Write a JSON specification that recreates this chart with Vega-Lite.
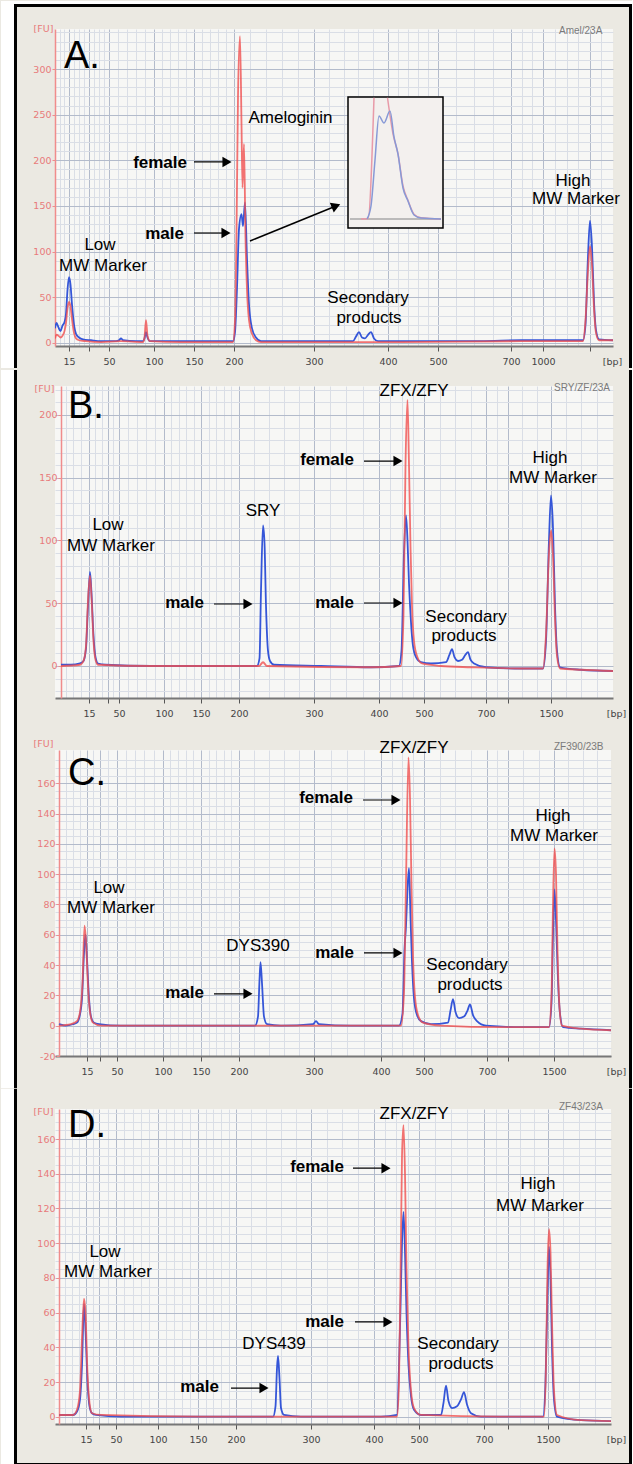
{
"$schema": "https://vega.github.io/schema/vega-lite/v6.json",
"background": "#ebe9e2",
"padding": 0,
"spacing": 0,
"resolve": {"scale": {"x": "independent", "y": "independent"}, "axis": {"x": "independent", "y": "independent"}},
"datasets": {
"trace": [
{"p":"A","s":"male","t":5.4,"fu":16},{"p":"A","s":"male","t":5.55,"fu":22},{"p":"A","s":"male","t":5.75,"fu":17},{"p":"A","s":"male","t":5.95,"fu":13},{"p":"A","s":"male","t":6.15,"fu":19},{"p":"A","s":"male","t":6.35,"fu":23},{"p":"A","s":"male","t":6.5,"fu":32},{"p":"A","s":"male","t":6.65,"fu":58},{"p":"A","s":"male","t":6.8,"fu":72},{"p":"A","s":"male","t":6.95,"fu":64},{"p":"A","s":"male","t":7.1,"fu":42},{"p":"A","s":"male","t":7.3,"fu":20},{"p":"A","s":"male","t":7.5,"fu":10},{"p":"A","s":"male","t":7.8,"fu":6},{"p":"A","s":"male","t":8.2,"fu":4},{"p":"A","s":"male","t":9.0,"fu":3},{"p":"A","s":"male","t":10.0,"fu":2},{"p":"A","s":"male","t":11.5,"fu":2},{"p":"A","s":"male","t":11.8,"fu":3},{"p":"A","s":"male","t":12.0,"fu":5},{"p":"A","s":"male","t":12.2,"fu":3},{"p":"A","s":"male","t":13.5,"fu":2},{"p":"A","s":"male","t":14.2,"fu":2},{"p":"A","s":"male","t":14.35,"fu":5},{"p":"A","s":"male","t":14.5,"fu":12},{"p":"A","s":"male","t":14.65,"fu":6},{"p":"A","s":"male","t":14.9,"fu":2},{"p":"A","s":"male","t":17.0,"fu":2},{"p":"A","s":"male","t":20.0,"fu":2},{"p":"A","s":"male","t":22.0,"fu":2},{"p":"A","s":"male","t":23.2,"fu":2},{"p":"A","s":"male","t":23.4,"fu":12},{"p":"A","s":"male","t":23.6,"fu":60},{"p":"A","s":"male","t":23.8,"fu":125},{"p":"A","s":"male","t":24.05,"fu":141},{"p":"A","s":"male","t":24.2,"fu":128},{"p":"A","s":"male","t":24.4,"fu":154},{"p":"A","s":"male","t":24.6,"fu":92},{"p":"A","s":"male","t":24.8,"fu":42},{"p":"A","s":"male","t":25.1,"fu":16},{"p":"A","s":"male","t":25.5,"fu":6},{"p":"A","s":"male","t":26.0,"fu":2},{"p":"A","s":"male","t":30.0,"fu":2},{"p":"A","s":"male","t":35.2,"fu":2},{"p":"A","s":"male","t":35.5,"fu":7},{"p":"A","s":"male","t":35.8,"fu":12},{"p":"A","s":"male","t":36.1,"fu":6},{"p":"A","s":"male","t":36.4,"fu":5},{"p":"A","s":"male","t":36.7,"fu":9},{"p":"A","s":"male","t":37.0,"fu":12},{"p":"A","s":"male","t":37.3,"fu":5},{"p":"A","s":"male","t":37.7,"fu":2},{"p":"A","s":"male","t":42.0,"fu":2},{"p":"A","s":"male","t":48.0,"fu":2},{"p":"A","s":"male","t":52.0,"fu":3},{"p":"A","s":"male","t":56.0,"fu":3},{"p":"A","s":"male","t":58.2,"fu":3},{"p":"A","s":"male","t":58.45,"fu":20},{"p":"A","s":"male","t":58.7,"fu":95},{"p":"A","s":"male","t":58.9,"fu":134},{"p":"A","s":"male","t":59.1,"fu":105},{"p":"A","s":"male","t":59.3,"fu":45},{"p":"A","s":"male","t":59.5,"fu":14},{"p":"A","s":"male","t":59.8,"fu":4},{"p":"A","s":"male","t":61.2,"fu":3},
{"p":"A","s":"female","t":5.4,"fu":5},{"p":"A","s":"female","t":5.55,"fu":9},{"p":"A","s":"female","t":5.75,"fu":8},{"p":"A","s":"female","t":5.95,"fu":6},{"p":"A","s":"female","t":6.15,"fu":8},{"p":"A","s":"female","t":6.35,"fu":13},{"p":"A","s":"female","t":6.5,"fu":22},{"p":"A","s":"female","t":6.65,"fu":38},{"p":"A","s":"female","t":6.8,"fu":45},{"p":"A","s":"female","t":6.95,"fu":40},{"p":"A","s":"female","t":7.1,"fu":26},{"p":"A","s":"female","t":7.3,"fu":11},{"p":"A","s":"female","t":7.5,"fu":5},{"p":"A","s":"female","t":7.8,"fu":3},{"p":"A","s":"female","t":8.5,"fu":2},{"p":"A","s":"female","t":10.0,"fu":1},{"p":"A","s":"female","t":12.0,"fu":2},{"p":"A","s":"female","t":14.2,"fu":1},{"p":"A","s":"female","t":14.35,"fu":6},{"p":"A","s":"female","t":14.5,"fu":25},{"p":"A","s":"female","t":14.65,"fu":8},{"p":"A","s":"female","t":14.9,"fu":2},{"p":"A","s":"female","t":18.0,"fu":1},{"p":"A","s":"female","t":23.2,"fu":1},{"p":"A","s":"female","t":23.4,"fu":25},{"p":"A","s":"female","t":23.55,"fu":120},{"p":"A","s":"female","t":23.7,"fu":270},{"p":"A","s":"female","t":23.9,"fu":336},{"p":"A","s":"female","t":24.05,"fu":240},{"p":"A","s":"female","t":24.15,"fu":170},{"p":"A","s":"female","t":24.3,"fu":218},{"p":"A","s":"female","t":24.45,"fu":115},{"p":"A","s":"female","t":24.6,"fu":58},{"p":"A","s":"female","t":24.8,"fu":25},{"p":"A","s":"female","t":25.1,"fu":10},{"p":"A","s":"female","t":25.5,"fu":3},{"p":"A","s":"female","t":26.0,"fu":1},{"p":"A","s":"female","t":40.0,"fu":1},{"p":"A","s":"female","t":52.0,"fu":2},{"p":"A","s":"female","t":58.2,"fu":2},{"p":"A","s":"female","t":58.45,"fu":25},{"p":"A","s":"female","t":58.7,"fu":80},{"p":"A","s":"female","t":58.9,"fu":106},{"p":"A","s":"female","t":59.1,"fu":85},{"p":"A","s":"female","t":59.3,"fu":38},{"p":"A","s":"female","t":59.5,"fu":11},{"p":"A","s":"female","t":59.8,"fu":3},{"p":"A","s":"female","t":61.2,"fu":3},
{"p":"B","s":"male","t":6.0,"fu":1},{"p":"B","s":"male","t":7.0,"fu":1},{"p":"B","s":"male","t":7.9,"fu":2},{"p":"B","s":"male","t":8.25,"fu":4},{"p":"B","s":"male","t":8.5,"fu":14},{"p":"B","s":"male","t":8.7,"fu":48},{"p":"B","s":"male","t":8.9,"fu":75},{"p":"B","s":"male","t":9.05,"fu":58},{"p":"B","s":"male","t":9.25,"fu":24},{"p":"B","s":"male","t":9.45,"fu":7},{"p":"B","s":"male","t":9.7,"fu":2},{"p":"B","s":"male","t":10.5,"fu":1},{"p":"B","s":"male","t":15.0,"fu":0},{"p":"B","s":"male","t":20.0,"fu":0},{"p":"B","s":"male","t":25.6,"fu":0},{"p":"B","s":"male","t":25.85,"fu":6},{"p":"B","s":"male","t":26.0,"fu":60},{"p":"B","s":"male","t":26.2,"fu":112},{"p":"B","s":"male","t":26.35,"fu":98},{"p":"B","s":"male","t":26.5,"fu":48},{"p":"B","s":"male","t":26.7,"fu":12},{"p":"B","s":"male","t":26.9,"fu":4},{"p":"B","s":"male","t":27.3,"fu":1},{"p":"B","s":"male","t":32.0,"fu":0},{"p":"B","s":"male","t":37.0,"fu":-1},{"p":"B","s":"male","t":39.8,"fu":0},{"p":"B","s":"male","t":40.05,"fu":12},{"p":"B","s":"male","t":40.3,"fu":90},{"p":"B","s":"male","t":40.5,"fu":120},{"p":"B","s":"male","t":40.65,"fu":100},{"p":"B","s":"male","t":40.8,"fu":66},{"p":"B","s":"male","t":41.0,"fu":35},{"p":"B","s":"male","t":41.2,"fu":16},{"p":"B","s":"male","t":41.5,"fu":7},{"p":"B","s":"male","t":42.0,"fu":3},{"p":"B","s":"male","t":43.0,"fu":2},{"p":"B","s":"male","t":44.5,"fu":3},{"p":"B","s":"male","t":44.85,"fu":9},{"p":"B","s":"male","t":45.1,"fu":13.5},{"p":"B","s":"male","t":45.35,"fu":7},{"p":"B","s":"male","t":45.7,"fu":4},{"p":"B","s":"male","t":46.1,"fu":5},{"p":"B","s":"male","t":46.45,"fu":9},{"p":"B","s":"male","t":46.7,"fu":11},{"p":"B","s":"male","t":46.95,"fu":5},{"p":"B","s":"male","t":47.3,"fu":2},{"p":"B","s":"male","t":48.5,"fu":-1},{"p":"B","s":"male","t":52.0,"fu":-2},{"p":"B","s":"male","t":54.2,"fu":-2},{"p":"B","s":"male","t":54.5,"fu":20},{"p":"B","s":"male","t":54.8,"fu":100},{"p":"B","s":"male","t":55.0,"fu":136},{"p":"B","s":"male","t":55.2,"fu":110},{"p":"B","s":"male","t":55.4,"fu":48},{"p":"B","s":"male","t":55.6,"fu":12},{"p":"B","s":"male","t":55.9,"fu":-1},{"p":"B","s":"male","t":58.0,"fu":-3},{"p":"B","s":"male","t":61.2,"fu":-4},
{"p":"B","s":"female","t":6.0,"fu":0},{"p":"B","s":"female","t":7.9,"fu":1},{"p":"B","s":"female","t":8.25,"fu":4},{"p":"B","s":"female","t":8.5,"fu":16},{"p":"B","s":"female","t":8.7,"fu":52},{"p":"B","s":"female","t":8.9,"fu":72},{"p":"B","s":"female","t":9.05,"fu":55},{"p":"B","s":"female","t":9.25,"fu":20},{"p":"B","s":"female","t":9.45,"fu":5},{"p":"B","s":"female","t":9.7,"fu":1},{"p":"B","s":"female","t":15.0,"fu":0},{"p":"B","s":"female","t":25.8,"fu":0},{"p":"B","s":"female","t":26.2,"fu":3},{"p":"B","s":"female","t":26.6,"fu":0},{"p":"B","s":"female","t":37.0,"fu":-1},{"p":"B","s":"female","t":40.0,"fu":0},{"p":"B","s":"female","t":40.25,"fu":40},{"p":"B","s":"female","t":40.45,"fu":160},{"p":"B","s":"female","t":40.65,"fu":212},{"p":"B","s":"female","t":40.8,"fu":160},{"p":"B","s":"female","t":40.95,"fu":95},{"p":"B","s":"female","t":41.1,"fu":48},{"p":"B","s":"female","t":41.3,"fu":20},{"p":"B","s":"female","t":41.6,"fu":8},{"p":"B","s":"female","t":42.1,"fu":2},{"p":"B","s":"female","t":44.0,"fu":0},{"p":"B","s":"female","t":47.0,"fu":-1},{"p":"B","s":"female","t":52.0,"fu":-2},{"p":"B","s":"female","t":54.2,"fu":-2},{"p":"B","s":"female","t":54.5,"fu":25},{"p":"B","s":"female","t":54.8,"fu":90},{"p":"B","s":"female","t":55.0,"fu":108},{"p":"B","s":"female","t":55.2,"fu":88},{"p":"B","s":"female","t":55.4,"fu":38},{"p":"B","s":"female","t":55.6,"fu":8},{"p":"B","s":"female","t":55.9,"fu":-2},{"p":"B","s":"female","t":58.0,"fu":-3},{"p":"B","s":"female","t":61.2,"fu":-4},
{"p":"C","s":"male","t":5.8,"fu":1},{"p":"C","s":"male","t":6.5,"fu":0},{"p":"C","s":"male","t":7.2,"fu":1},{"p":"C","s":"male","t":7.6,"fu":2},{"p":"C","s":"male","t":7.85,"fu":6},{"p":"C","s":"male","t":8.1,"fu":18},{"p":"C","s":"male","t":8.3,"fu":48},{"p":"C","s":"male","t":8.45,"fu":60},{"p":"C","s":"male","t":8.6,"fu":44},{"p":"C","s":"male","t":8.8,"fu":18},{"p":"C","s":"male","t":9.0,"fu":6},{"p":"C","s":"male","t":9.3,"fu":2},{"p":"C","s":"male","t":9.8,"fu":1},{"p":"C","s":"male","t":12.0,"fu":0},{"p":"C","s":"male","t":18.0,"fu":0},{"p":"C","s":"male","t":25.4,"fu":0},{"p":"C","s":"male","t":25.7,"fu":6},{"p":"C","s":"male","t":25.85,"fu":30},{"p":"C","s":"male","t":25.95,"fu":42},{"p":"C","s":"male","t":26.1,"fu":28},{"p":"C","s":"male","t":26.3,"fu":6},{"p":"C","s":"male","t":26.6,"fu":1},{"p":"C","s":"male","t":28.0,"fu":0},{"p":"C","s":"male","t":31.2,"fu":1},{"p":"C","s":"male","t":31.5,"fu":3},{"p":"C","s":"male","t":31.8,"fu":1},{"p":"C","s":"male","t":35.0,"fu":0},{"p":"C","s":"male","t":39.8,"fu":0},{"p":"C","s":"male","t":40.15,"fu":8},{"p":"C","s":"male","t":40.35,"fu":50},{"p":"C","s":"male","t":40.5,"fu":66},{"p":"C","s":"male","t":40.65,"fu":90},{"p":"C","s":"male","t":40.8,"fu":104},{"p":"C","s":"male","t":40.95,"fu":72},{"p":"C","s":"male","t":41.1,"fu":42},{"p":"C","s":"male","t":41.3,"fu":18},{"p":"C","s":"male","t":41.6,"fu":7},{"p":"C","s":"male","t":42.0,"fu":3},{"p":"C","s":"male","t":43.0,"fu":1},{"p":"C","s":"male","t":44.7,"fu":2},{"p":"C","s":"male","t":44.95,"fu":10},{"p":"C","s":"male","t":45.2,"fu":17.5},{"p":"C","s":"male","t":45.45,"fu":9},{"p":"C","s":"male","t":45.8,"fu":5},{"p":"C","s":"male","t":46.3,"fu":6},{"p":"C","s":"male","t":46.65,"fu":10},{"p":"C","s":"male","t":46.9,"fu":14},{"p":"C","s":"male","t":47.2,"fu":7},{"p":"C","s":"male","t":47.6,"fu":3},{"p":"C","s":"male","t":48.5,"fu":0},{"p":"C","s":"male","t":52.0,"fu":-1},{"p":"C","s":"male","t":54.8,"fu":-1},{"p":"C","s":"male","t":55.05,"fu":15},{"p":"C","s":"male","t":55.2,"fu":60},{"p":"C","s":"male","t":55.35,"fu":90},{"p":"C","s":"male","t":55.5,"fu":70},{"p":"C","s":"male","t":55.7,"fu":30},{"p":"C","s":"male","t":55.9,"fu":8},{"p":"C","s":"male","t":56.2,"fu":-1},{"p":"C","s":"male","t":58.0,"fu":-2},{"p":"C","s":"male","t":61.0,"fu":-3},
{"p":"C","s":"female","t":5.8,"fu":0},{"p":"C","s":"female","t":7.0,"fu":1},{"p":"C","s":"female","t":7.6,"fu":3},{"p":"C","s":"female","t":7.9,"fu":9},{"p":"C","s":"female","t":8.15,"fu":28},{"p":"C","s":"female","t":8.35,"fu":66},{"p":"C","s":"female","t":8.5,"fu":56},{"p":"C","s":"female","t":8.7,"fu":26},{"p":"C","s":"female","t":8.9,"fu":9},{"p":"C","s":"female","t":9.2,"fu":2},{"p":"C","s":"female","t":10.0,"fu":0},{"p":"C","s":"female","t":28.0,"fu":0},{"p":"C","s":"female","t":40.0,"fu":0},{"p":"C","s":"female","t":40.3,"fu":22},{"p":"C","s":"female","t":40.5,"fu":95},{"p":"C","s":"female","t":40.75,"fu":177},{"p":"C","s":"female","t":40.9,"fu":150},{"p":"C","s":"female","t":41.05,"fu":92},{"p":"C","s":"female","t":41.2,"fu":46},{"p":"C","s":"female","t":41.4,"fu":19},{"p":"C","s":"female","t":41.7,"fu":7},{"p":"C","s":"female","t":42.2,"fu":2},{"p":"C","s":"female","t":44.0,"fu":0},{"p":"C","s":"female","t":50.0,"fu":-1},{"p":"C","s":"female","t":54.8,"fu":-1},{"p":"C","s":"female","t":55.05,"fu":20},{"p":"C","s":"female","t":55.2,"fu":80},{"p":"C","s":"female","t":55.35,"fu":117},{"p":"C","s":"female","t":55.5,"fu":100},{"p":"C","s":"female","t":55.65,"fu":50},{"p":"C","s":"female","t":55.85,"fu":12},{"p":"C","s":"female","t":56.1,"fu":0},{"p":"C","s":"female","t":58.0,"fu":-2},{"p":"C","s":"female","t":61.0,"fu":-3},
{"p":"D","s":"male","t":5.8,"fu":1},{"p":"D","s":"male","t":6.5,"fu":1},{"p":"D","s":"male","t":7.2,"fu":1},{"p":"D","s":"male","t":7.6,"fu":3},{"p":"D","s":"male","t":7.9,"fu":10},{"p":"D","s":"male","t":8.1,"fu":30},{"p":"D","s":"male","t":8.3,"fu":65},{"p":"D","s":"male","t":8.45,"fu":50},{"p":"D","s":"male","t":8.65,"fu":20},{"p":"D","s":"male","t":8.85,"fu":6},{"p":"D","s":"male","t":9.1,"fu":2},{"p":"D","s":"male","t":9.5,"fu":1},{"p":"D","s":"male","t":12.0,"fu":0},{"p":"D","s":"male","t":20.0,"fu":0},{"p":"D","s":"male","t":27.2,"fu":0},{"p":"D","s":"male","t":27.45,"fu":6},{"p":"D","s":"male","t":27.6,"fu":28},{"p":"D","s":"male","t":27.7,"fu":35},{"p":"D","s":"male","t":27.85,"fu":22},{"p":"D","s":"male","t":28.0,"fu":5},{"p":"D","s":"male","t":28.3,"fu":1},{"p":"D","s":"male","t":30.0,"fu":0},{"p":"D","s":"male","t":38.0,"fu":0},{"p":"D","s":"male","t":39.6,"fu":1},{"p":"D","s":"male","t":39.85,"fu":40},{"p":"D","s":"male","t":39.95,"fu":63},{"p":"D","s":"male","t":40.1,"fu":100},{"p":"D","s":"male","t":40.25,"fu":118},{"p":"D","s":"male","t":40.4,"fu":95},{"p":"D","s":"male","t":40.55,"fu":60},{"p":"D","s":"male","t":40.75,"fu":30},{"p":"D","s":"male","t":41.0,"fu":12},{"p":"D","s":"male","t":41.3,"fu":4},{"p":"D","s":"male","t":42.0,"fu":1},{"p":"D","s":"male","t":44.0,"fu":1},{"p":"D","s":"male","t":44.25,"fu":8},{"p":"D","s":"male","t":44.5,"fu":17.9},{"p":"D","s":"male","t":44.75,"fu":9},{"p":"D","s":"male","t":45.1,"fu":5},{"p":"D","s":"male","t":45.6,"fu":6},{"p":"D","s":"male","t":46.0,"fu":10},{"p":"D","s":"male","t":46.3,"fu":14.2},{"p":"D","s":"male","t":46.6,"fu":7},{"p":"D","s":"male","t":47.0,"fu":2},{"p":"D","s":"male","t":48.0,"fu":0},{"p":"D","s":"male","t":54.2,"fu":0},{"p":"D","s":"male","t":54.45,"fu":20},{"p":"D","s":"male","t":54.65,"fu":70},{"p":"D","s":"male","t":54.8,"fu":98},{"p":"D","s":"male","t":54.95,"fu":80},{"p":"D","s":"male","t":55.1,"fu":40},{"p":"D","s":"male","t":55.3,"fu":10},{"p":"D","s":"male","t":55.6,"fu":0},{"p":"D","s":"male","t":58.0,"fu":-2},{"p":"D","s":"male","t":61.0,"fu":-2.5},
{"p":"D","s":"female","t":5.8,"fu":1},{"p":"D","s":"female","t":7.2,"fu":1},{"p":"D","s":"female","t":7.6,"fu":4},{"p":"D","s":"female","t":7.9,"fu":15},{"p":"D","s":"female","t":8.1,"fu":45},{"p":"D","s":"female","t":8.3,"fu":68},{"p":"D","s":"female","t":8.45,"fu":60},{"p":"D","s":"female","t":8.65,"fu":25},{"p":"D","s":"female","t":8.85,"fu":8},{"p":"D","s":"female","t":9.1,"fu":2},{"p":"D","s":"female","t":10.0,"fu":1},{"p":"D","s":"female","t":20.0,"fu":0},{"p":"D","s":"female","t":39.6,"fu":0},{"p":"D","s":"female","t":39.8,"fu":20},{"p":"D","s":"female","t":39.95,"fu":80},{"p":"D","s":"female","t":40.1,"fu":150},{"p":"D","s":"female","t":40.25,"fu":168},{"p":"D","s":"female","t":40.4,"fu":140},{"p":"D","s":"female","t":40.55,"fu":85},{"p":"D","s":"female","t":40.75,"fu":40},{"p":"D","s":"female","t":41.0,"fu":15},{"p":"D","s":"female","t":41.3,"fu":5},{"p":"D","s":"female","t":42.0,"fu":1},{"p":"D","s":"female","t":50.0,"fu":0},{"p":"D","s":"female","t":54.3,"fu":0},{"p":"D","s":"female","t":54.5,"fu":30},{"p":"D","s":"female","t":54.65,"fu":85},{"p":"D","s":"female","t":54.8,"fu":108},{"p":"D","s":"female","t":54.95,"fu":95},{"p":"D","s":"female","t":55.1,"fu":55},{"p":"D","s":"female","t":55.3,"fu":15},{"p":"D","s":"female","t":55.6,"fu":1},{"p":"D","s":"female","t":58.0,"fu":-2},{"p":"D","s":"female","t":61.0,"fu":-2.5}
],
"inset": [
{"s":"female1","t":36.0,"fu":135.8},{"s":"female1","t":36.7,"fu":136.0},{"s":"female1","t":37.3,"fu":268.5},
{"s":"female2","t":38.65,"fu":268.5},{"s":"female2","t":39.2,"fu":229},{"s":"female2","t":39.7,"fu":207},{"s":"female2","t":40.2,"fu":172},{"s":"female2","t":40.7,"fu":156},{"s":"female2","t":41.3,"fu":141},{"s":"female2","t":42.0,"fu":137},{"s":"female2","t":44.0,"fu":135.8},
{"s":"male","t":36.6,"fu":135.8},{"s":"male","t":37.0,"fu":150},{"s":"male","t":37.4,"fu":200.4},{"s":"male","t":37.8,"fu":248.5},{"s":"male","t":38.3,"fu":240.9},{"s":"male","t":38.9,"fu":254.0},{"s":"male","t":39.3,"fu":225.6},{"s":"male","t":39.7,"fu":206.9},{"s":"male","t":40.2,"fu":169.7},{"s":"male","t":40.7,"fu":155.5},{"s":"male","t":41.3,"fu":140.2},{"s":"male","t":42.0,"fu":136.9},{"s":"male","t":44.0,"fu":135.8}
],
"ann": [
{"p":"A","t":6.3,"fu":301.4,"text":"A.","k":"big"},
{"p":"A","t":28.95,"fu":240.9,"text":"Ameloginin","k":"plain"},
{"p":"A","t":18.6,"fu":191.6,"text":"female","k":"bold"},
{"p":"A","t":18.3,"fu":113.9,"text":"male","k":"bold"},
{"p":"A","t":9.9,"fu":101.8,"text":"Low","k":"plain"},
{"p":"A","t":10.2,"fu":78.8,"text":"MW Marker","k":"plain"},
{"p":"A","t":36.7,"fu":43.8,"text":"Secondary","k":"plain"},
{"p":"A","t":36.8,"fu":21.9,"text":"products","k":"plain"},
{"p":"A","t":57.2,"fu":171.9,"text":"High","k":"plain"},
{"p":"A","t":57.5,"fu":152.2,"text":"MW Marker","k":"plain"},
{"p":"A","t":55.8,"fu":342.0,"text":"Amel/23A","k":"id"},
{"p":"B","t":6.7,"fu":197.6,"text":"B.","k":"big"},
{"p":"B","t":41.3,"fu":215.1,"text":"ZFX/ZFY","k":"plain"},
{"p":"B","t":26.2,"fu":119.5,"text":"SRY","k":"plain"},
{"p":"B","t":10.7,"fu":108.4,"text":"Low","k":"plain"},
{"p":"B","t":11.0,"fu":91.6,"text":"MW Marker","k":"plain"},
{"p":"B","t":20.3,"fu":46.2,"text":"male","k":"bold"},
{"p":"B","t":35.3,"fu":160.2,"text":"female","k":"bold"},
{"p":"B","t":35.3,"fu":46.2,"text":"male","k":"bold"},
{"p":"B","t":46.5,"fu":35.1,"text":"Secondary","k":"plain"},
{"p":"B","t":46.3,"fu":19.9,"text":"products","k":"plain"},
{"p":"B","t":54.9,"fu":161.8,"text":"High","k":"plain"},
{"p":"B","t":55.2,"fu":145.8,"text":"MW Marker","k":"plain"},
{"p":"B","t":55.3,"fu":221.5,"text":"SRY/ZF/23A","k":"id"},
{"p":"C","t":6.7,"fu":158.8,"text":"C.","k":"big"},
{"p":"C","t":41.3,"fu":179.9,"text":"ZFX/ZFY","k":"plain"},
{"p":"C","t":35.2,"fu":146.9,"text":"female","k":"bold"},
{"p":"C","t":55.2,"fu":135.0,"text":"High","k":"plain"},
{"p":"C","t":55.3,"fu":121.8,"text":"MW Marker","k":"plain"},
{"p":"C","t":35.3,"fu":44.7,"text":"male","k":"bold"},
{"p":"C","t":46.6,"fu":36.7,"text":"Secondary","k":"plain"},
{"p":"C","t":46.9,"fu":23.5,"text":"products","k":"plain"},
{"p":"C","t":10.8,"fu":87.5,"text":"Low","k":"plain"},
{"p":"C","t":11.0,"fu":74.3,"text":"MW Marker","k":"plain"},
{"p":"C","t":25.7,"fu":49.3,"text":"DYS390","k":"plain"},
{"p":"C","t":20.3,"fu":18.3,"text":"male","k":"bold"},
{"p":"C","t":55.3,"fu":183.6,"text":"ZF390/23B","k":"id"},
{"p":"D","t":6.7,"fu":161.2,"text":"D.","k":"big"},
{"p":"D","t":41.3,"fu":171.6,"text":"ZFX/ZFY","k":"plain"},
{"p":"D","t":34.3,"fu":140.9,"text":"female","k":"bold"},
{"p":"D","t":53.7,"fu":131.2,"text":"High","k":"plain"},
{"p":"D","t":53.9,"fu":118.6,"text":"MW Marker","k":"plain"},
{"p":"D","t":34.3,"fu":51.7,"text":"male","k":"bold"},
{"p":"D","t":45.7,"fu":39.0,"text":"Secondary","k":"plain"},
{"p":"D","t":46.0,"fu":27.5,"text":"products","k":"plain"},
{"p":"D","t":10.4,"fu":92.0,"text":"Low","k":"plain"},
{"p":"D","t":10.7,"fu":80.5,"text":"MW Marker","k":"plain"},
{"p":"D","t":27.3,"fu":39.0,"text":"DYS439","k":"plain"},
{"p":"D","t":21.8,"fu":14.2,"text":"male","k":"bold"},
{"p":"D","t":55.8,"fu":178.5,"text":"ZF43/23A","k":"id"}
],
"arrow": [
{"p":"A","t":19.3,"fu":198.2,"t2":22.6},{"p":"A","t":19.3,"fu":120.4,"t2":22.5},
{"p":"B","t":21.3,"fu":49.4,"t2":24.7},{"p":"B","t":36.3,"fu":163.3,"t2":39.7},{"p":"B","t":36.3,"fu":50.2,"t2":39.7},
{"p":"C","t":36.2,"fu":148.9,"t2":39.5},{"p":"C","t":36.3,"fu":48.0,"t2":39.7},{"p":"C","t":21.3,"fu":21.0,"t2":24.7},
{"p":"D","t":35.2,"fu":143.2,"t2":38.5},{"p":"D","t":35.4,"fu":54.6,"t2":38.7},{"p":"D","t":23.0,"fu":16.5,"t2":26.3}
]
},
"vconcat": [
{
"width": 558, "height": 317,
"layer": [
{"data":{"values":[{}]},"mark":{"type":"rect","color":"#ffffff","clip":false},"encoding":{
 "x":{"datum":0,"type":"quantitative","scale":{"domain":[5.4,61.2],"nice":false,"zero":false},"axis":{"grid":true,"tickCount":1000,"labelOverlap":false,"title":"[bp]","titleX":557,"titleY":10,"titleAlign":"center","titleBaseline":"top",
  "values":[6.8,8.8,10.8,15.3,19.3,23.3,31.3,38.7,43.7,51.0,54.2,58.9,5.9,6.3,7.3,7.8,8.3,9.3,9.8,10.3,11.7,12.6,13.5,14.4,16.1,16.9,17.7,18.5,20.1,20.9,21.7,22.5,24.9,26.5,28.1,29.7,32.8,34.3,35.7,37.2,39.7,40.7,41.7,42.7,45.5,47.3,49.2,52.1,53.1,55.4,56.6,57.7,60.0],
  "labelExpr":"indexof([6.8,8.8,10.8,15.3,19.3,23.3,31.3,38.7,43.7,51,54.2,58.9], datum.value) >= 0 ? ['15','','50','100','150','200','300','400','500','700','1000',''][indexof([6.8,8.8,10.8,15.3,19.3,23.3,31.3,38.7,43.7,51,54.2,58.9], datum.value)] : ''",
  "gridColor":{"condition":{"test":"indexof([6.8,8.8,10.8,15.3,19.3,23.3,31.3,38.7,43.7,51,54.2,58.9], datum.value) >= 0","value":"#b3bbcb"},"value":"#dadee6"},
  "tickOpacity":{"condition":{"test":"indexof([6.8,8.8,10.8,15.3,19.3,23.3,31.3,38.7,43.7,51,54.2,58.9], datum.value) >= 0","value":1},"value":0}}},
 "x2":{"datum":1.3},
 "y":{"datum":374.5,"type":"quantitative","scale":{"domain":[-3.3,343.8],"nice":false,"zero":false},"axis":{"grid":true,"tickCount":1000,"labelOverlap":false,"title":"[FU]","titleAngle":0,"titleX":-12,"titleY":-1,"titleAlign":"center","titleBaseline":"middle",
  "values":[0,10,20,30,40,50,60,70,80,90,100,110,120,130,140,150,160,170,180,190,200,210,220,230,240,250,260,270,280,290,300,310,320,330,340],
  "labelExpr":"datum.value % 50 == 0 ? '' + datum.value : ''",
  "gridColor":{"condition":{"test":"datum.value % 50 == 0","value":"#b3bbcb"},"value":"#dadee6"},
  "tickOpacity":{"condition":{"test":"datum.value % 50 == 0","value":1},"value":0}}},
 "y2":{"datum":-27.4}}},
{"data":{"values":[{}]},"mark":{"type":"rect","color":"#ffffff","clip":false},"encoding":{"x":{"datum":1.3,"type":"quantitative"},"x2":{"datum":63.1},"y":{"datum":374.5,"type":"quantitative"},"y2":{"datum":371.2}}},
{"data":{"values":[{}]},"mark":{"type":"rect","color":"#000000","clip":false},"encoding":{"x":{"datum":1.3,"type":"quantitative"},"x2":{"datum":63.1},"y":{"datum":371.2,"type":"quantitative"},"y2":{"datum":367.9}}},
{"data":{"values":[{}]},"mark":{"type":"rect","color":"#000000","clip":false},"encoding":{"x":{"datum":1.3,"type":"quantitative"},"x2":{"datum":1.6},"y":{"datum":371.2,"type":"quantitative"},"y2":{"datum":-27.4}}},
{"data":{"values":[{}]},"mark":{"type":"rect","color":"#000000","clip":false},"encoding":{"x":{"datum":62.8,"type":"quantitative"},"x2":{"datum":63.1},"y":{"datum":371.2,"type":"quantitative"},"y2":{"datum":-27.4}}},
{"data":{"name":"trace"},"transform":[{"filter":"datum.p=='A' && datum.s=='male'"}],"mark":{"type":"line","strokeWidth":1.8,"interpolate":"monotone","clip":true},"encoding":{"x":{"field":"t","type":"quantitative"},"y":{"field":"fu","type":"quantitative"},"color":{"field":"s","type":"nominal","scale":{"domain":["male","female"],"range":["#3556d8","#f05050"]},"legend":null}}},
{"data":{"name":"trace"},"transform":[{"filter":"datum.p=='A' && datum.s=='female'"}],"mark":{"type":"line","strokeWidth":1.8,"opacity":0.8,"interpolate":"monotone","clip":true},"encoding":{"x":{"field":"t","type":"quantitative"},"y":{"field":"fu","type":"quantitative"},"color":{"field":"s","type":"nominal","legend":null}}},
{"data":{"values":[{}]},"mark":{"type":"rect","fill":"#f3f0ee","stroke":"#000000","strokeWidth":1.5,"clip":false},"encoding":{"x":{"datum":34.7,"type":"quantitative"},"x2":{"datum":44.2},"y":{"datum":269.4,"type":"quantitative"},"y2":{"datum":125.9}}},
{"data":{"values":[{}]},"mark":{"type":"rule","color":"#a8a8a8","strokeWidth":1.5},"encoding":{"x":{"datum":34.9,"type":"quantitative"},"x2":{"datum":44.0},"y":{"datum":135.8,"type":"quantitative"}}},
{"data":{"name":"inset"},"transform":[{"filter":"datum.s!='male'"}],"mark":{"type":"line","color":"#e89aa8","strokeWidth":1.5,"interpolate":"monotone"},"encoding":{"x":{"field":"t","type":"quantitative"},"y":{"field":"fu","type":"quantitative"},"detail":{"field":"s"}}},
{"data":{"name":"inset"},"transform":[{"filter":"datum.s=='male'"}],"mark":{"type":"line","color":"#8799d6","strokeWidth":1.5,"interpolate":"monotone"},"encoding":{"x":{"field":"t","type":"quantitative"},"y":{"field":"fu","type":"quantitative"}}},
{"data":{"name":"ann"},"transform":[{"filter":"datum.p=='A' && datum.k=='big'"}],"mark":{"type":"text","fontSize":38,"align":"left","baseline":"alphabetic","color":"#000000"},"encoding":{"x":{"field":"t","type":"quantitative"},"y":{"field":"fu","type":"quantitative"},"text":{"field":"text"}}},
{"data":{"name":"ann"},"transform":[{"filter":"datum.p=='A' && datum.k=='plain'"}],"mark":{"type":"text","fontSize":17,"align":"center","baseline":"alphabetic","color":"#000000"},"encoding":{"x":{"field":"t","type":"quantitative"},"y":{"field":"fu","type":"quantitative"},"text":{"field":"text"}}},
{"data":{"name":"ann"},"transform":[{"filter":"datum.p=='A' && datum.k=='bold'"}],"mark":{"type":"text","fontSize":17,"fontWeight":"bold","align":"right","baseline":"alphabetic","color":"#000000"},"encoding":{"x":{"field":"t","type":"quantitative"},"y":{"field":"fu","type":"quantitative"},"text":{"field":"text"}}},
{"data":{"name":"ann"},"transform":[{"filter":"datum.p=='A' && datum.k=='id'"}],"mark":{"type":"text","fontSize":10,"align":"left","baseline":"middle","color":"#7a7a7a"},"encoding":{"x":{"field":"t","type":"quantitative"},"y":{"field":"fu","type":"quantitative"},"text":{"field":"text"}}},
{"data":{"name":"arrow"},"transform":[{"filter":"datum.p=='A'"}],"mark":{"type":"rule","color":"#000000","strokeWidth":1.2},"encoding":{"x":{"field":"t","type":"quantitative"},"x2":{"field":"t2"},"y":{"field":"fu","type":"quantitative"}}},
{"data":{"name":"arrow"},"transform":[{"filter":"datum.p=='A'"}],"mark":{"type":"point","shape":"triangle-right","filled":true,"color":"#000000","size":110,"opacity":1},"encoding":{"x":{"field":"t2","type":"quantitative"},"y":{"field":"fu","type":"quantitative"}}},
{"data":{"values":[{}]},"mark":{"type":"rule","color":"#000000","strokeWidth":1.5},"encoding":{"x":{"datum":24.9,"type":"quantitative"},"x2":{"datum":33.5},"y":{"datum":111.7,"type":"quantitative"},"y2":{"datum":150.0}}},
{"data":{"values":[{}]},"mark":{"type":"point","shape":"triangle-right","filled":true,"color":"#000000","size":110,"opacity":1,"angle":338},"encoding":{"x":{"datum":33.5,"type":"quantitative"},"y":{"datum":150.0,"type":"quantitative"}}}
]
},
{
"width": 558, "height": 312,
"layer": [
{"data":{"values":[{}]},"mark":{"type":"rect","color":"#ffffff","clip":false},"encoding":{
 "x":{"datum":0,"type":"quantitative","scale":{"domain":[5.4,61.2],"nice":false,"zero":false},"axis":{"grid":true,"tickCount":1000,"labelOverlap":false,"title":"[bp]","titleX":561,"titleY":10,"titleAlign":"center","titleBaseline":"top",
  "values":[8.8,10.7,11.8,16.3,20,23.8,31.3,37.8,42.3,48.5,50.7,55,6.5,7.2,8.0,9.4,10.1,11.25,12.7,13.6,14.5,15.4,17.0,17.8,18.5,19.3,20.8,21.5,22.3,23.0,25.3,26.8,28.3,29.8,32.9,34.5,36.2,38.9,40.1,41.2,43.9,45.4,47.0,49.6,52.1,53.6,56.5,58.0,59.6],
  "labelExpr":"indexof([8.8,10.7,11.8,16.3,20,23.8,31.3,37.8,42.3,48.5,50.7,55], datum.value) >= 0 ? ['15','','50','100','150','200','300','400','500','700','','1500'][indexof([8.8,10.7,11.8,16.3,20,23.8,31.3,37.8,42.3,48.5,50.7,55], datum.value)] : ''",
  "gridColor":{"condition":{"test":"indexof([8.8,10.7,11.8,16.3,20,23.8,31.3,37.8,42.3,48.5,50.7,55], datum.value) >= 0","value":"#b3bbcb"},"value":"#dadee6"},
  "tickOpacity":{"condition":{"test":"indexof([8.8,10.7,11.8,16.3,20,23.8,31.3,37.8,42.3,48.5,50.7,55], datum.value) >= 0","value":1},"value":0}}},
 "x2":{"datum":1.3},
 "y":{"datum":235.9,"type":"quantitative","scale":{"domain":[-25.5,223.1],"nice":false,"zero":false},"axis":{"grid":true,"tickCount":1000,"labelOverlap":false,"offset":-6,"title":"[FU]","titleAngle":0,"titleX":-17,"titleY":2,"titleAlign":"center","titleBaseline":"middle",
  "values":[-20,-10,0,10,20,30,40,50,60,70,80,90,100,110,120,130,140,150,160,170,180,190,200,210,220],
  "labelExpr":"datum.value % 50 == 0 ? '' + datum.value : ''",
  "gridColor":{"condition":{"test":"datum.value % 50 == 0","value":"#b3bbcb"},"value":"#dadee6"},
  "tickOpacity":{"condition":{"test":"datum.value % 50 == 0","value":1},"value":0}}},
 "y2":{"datum":-49.4}}},
{"data":{"values":[{}]},"mark":{"type":"rect","color":"#000000","clip":false},"encoding":{"x":{"datum":1.3,"type":"quantitative"},"x2":{"datum":1.6},"y":{"datum":235.9,"type":"quantitative"},"y2":{"datum":-49.4}}},
{"data":{"values":[{}]},"mark":{"type":"rect","color":"#000000","clip":false},"encoding":{"x":{"datum":62.8,"type":"quantitative"},"x2":{"datum":63.1},"y":{"datum":235.9,"type":"quantitative"},"y2":{"datum":-49.4}}},
{"data":{"name":"trace"},"transform":[{"filter":"datum.p=='B' && datum.s=='male'"}],"mark":{"type":"line","strokeWidth":1.8,"interpolate":"monotone","clip":true},"encoding":{"x":{"field":"t","type":"quantitative"},"y":{"field":"fu","type":"quantitative"},"color":{"field":"s","type":"nominal","scale":{"domain":["male","female"],"range":["#3556d8","#f05050"]},"legend":null}}},
{"data":{"name":"trace"},"transform":[{"filter":"datum.p=='B' && datum.s=='female'"}],"mark":{"type":"line","strokeWidth":1.8,"opacity":0.8,"interpolate":"monotone","clip":true},"encoding":{"x":{"field":"t","type":"quantitative"},"y":{"field":"fu","type":"quantitative"},"color":{"field":"s","type":"nominal","legend":null}}},
{"data":{"name":"ann"},"transform":[{"filter":"datum.p=='B' && datum.k=='big'"}],"mark":{"type":"text","fontSize":38,"align":"left","baseline":"alphabetic","color":"#000000"},"encoding":{"x":{"field":"t","type":"quantitative"},"y":{"field":"fu","type":"quantitative"},"text":{"field":"text"}}},
{"data":{"name":"ann"},"transform":[{"filter":"datum.p=='B' && datum.k=='plain'"}],"mark":{"type":"text","fontSize":17,"align":"center","baseline":"alphabetic","color":"#000000"},"encoding":{"x":{"field":"t","type":"quantitative"},"y":{"field":"fu","type":"quantitative"},"text":{"field":"text"}}},
{"data":{"name":"ann"},"transform":[{"filter":"datum.p=='B' && datum.k=='bold'"}],"mark":{"type":"text","fontSize":17,"fontWeight":"bold","align":"right","baseline":"alphabetic","color":"#000000"},"encoding":{"x":{"field":"t","type":"quantitative"},"y":{"field":"fu","type":"quantitative"},"text":{"field":"text"}}},
{"data":{"name":"ann"},"transform":[{"filter":"datum.p=='B' && datum.k=='id'"}],"mark":{"type":"text","fontSize":10,"align":"left","baseline":"middle","color":"#7a7a7a"},"encoding":{"x":{"field":"t","type":"quantitative"},"y":{"field":"fu","type":"quantitative"},"text":{"field":"text"}}},
{"data":{"name":"arrow"},"transform":[{"filter":"datum.p=='B'"}],"mark":{"type":"rule","color":"#000000","strokeWidth":1.2},"encoding":{"x":{"field":"t","type":"quantitative"},"x2":{"field":"t2"},"y":{"field":"fu","type":"quantitative"}}},
{"data":{"name":"arrow"},"transform":[{"filter":"datum.p=='B'"}],"mark":{"type":"point","shape":"triangle-right","filled":true,"color":"#000000","size":110,"opacity":1},"encoding":{"x":{"field":"t2","type":"quantitative"},"y":{"field":"fu","type":"quantitative"}}}
]
},
{
"width": 556, "height": 306,
"layer": [
{"data":{"values":[{}]},"mark":{"type":"rect","color":"#ffffff","clip":false},"encoding":{
 "x":{"datum":0,"type":"quantitative","scale":{"domain":[5.4,61.0],"nice":false,"zero":false},"axis":{"grid":true,"tickCount":1000,"labelOverlap":false,"title":"[bp]","titleX":561,"titleY":10,"titleAlign":"center","titleBaseline":"top",
  "values":[8.6,9.9,11.6,16.2,20,23.8,31.3,38,42.3,48.6,50.7,55.3,6.5,7.2,7.9,9.25,10.75,12.5,13.4,14.3,15.3,16.95,17.7,18.5,19.2,20.8,21.5,22.3,23.0,25.3,26.8,28.3,29.8,33.0,34.6,36.3,39.1,40.1,41.2,43.9,45.4,47.0,49.6,52.2,53.8,56.7,58.2,59.6],
  "labelExpr":"indexof([8.6,9.9,11.6,16.2,20,23.8,31.3,38,42.3,48.6,50.7,55.3], datum.value) >= 0 ? ['15','','50','100','150','200','300','400','500','700','','1500'][indexof([8.6,9.9,11.6,16.2,20,23.8,31.3,38,42.3,48.6,50.7,55.3], datum.value)] : ''",
  "gridColor":{"condition":{"test":"indexof([8.6,9.9,11.6,16.2,20,23.8,31.3,38,42.3,48.6,50.7,55.3], datum.value) >= 0","value":"#b3bbcb"},"value":"#dadee6"},
  "tickOpacity":{"condition":{"test":"indexof([8.6,9.9,11.6,16.2,20,23.8,31.3,38,42.3,48.6,50.7,55.3], datum.value) >= 0","value":1},"value":0}}},
 "x2":{"datum":1.3},
 "y":{"datum":196.4,"type":"quantitative","scale":{"domain":[-20,181.9],"nice":false,"zero":false},"axis":{"grid":true,"tickCount":1000,"labelOverlap":false,"offset":-4,"title":"[FU]","titleAngle":0,"titleX":-16,"titleY":-7,"titleAlign":"center","titleBaseline":"middle",
  "values":[-20,-15,-10,-5,0,5,10,15,20,25,30,35,40,45,50,55,60,65,70,75,80,85,90,95,100,105,110,115,120,125,130,135,140,145,150,155,160,165,170,175],
  "labelExpr":"datum.value % 20 == 0 ? '' + datum.value : ''",
  "gridColor":{"condition":{"test":"datum.value % 20 == 0","value":"#b3bbcb"},"value":"#dadee6"},
  "tickOpacity":{"condition":{"test":"datum.value % 20 == 0","value":1},"value":0}}},
 "y2":{"datum":-41.1}}},
{"data":{"values":[{}]},"mark":{"type":"rect","color":"#000000","clip":false},"encoding":{"x":{"datum":1.3,"type":"quantitative"},"x2":{"datum":1.6},"y":{"datum":196.4,"type":"quantitative"},"y2":{"datum":-41.1}}},
{"data":{"values":[{}]},"mark":{"type":"rect","color":"#000000","clip":false},"encoding":{"x":{"datum":62.8,"type":"quantitative"},"x2":{"datum":63.1},"y":{"datum":196.4,"type":"quantitative"},"y2":{"datum":-41.1}}},
{"data":{"name":"trace"},"transform":[{"filter":"datum.p=='C' && datum.s=='male'"}],"mark":{"type":"line","strokeWidth":1.8,"interpolate":"monotone","clip":true},"encoding":{"x":{"field":"t","type":"quantitative"},"y":{"field":"fu","type":"quantitative"},"color":{"field":"s","type":"nominal","scale":{"domain":["male","female"],"range":["#3556d8","#f05050"]},"legend":null}}},
{"data":{"name":"trace"},"transform":[{"filter":"datum.p=='C' && datum.s=='female'"}],"mark":{"type":"line","strokeWidth":1.8,"opacity":0.8,"interpolate":"monotone","clip":true},"encoding":{"x":{"field":"t","type":"quantitative"},"y":{"field":"fu","type":"quantitative"},"color":{"field":"s","type":"nominal","legend":null}}},
{"data":{"name":"ann"},"transform":[{"filter":"datum.p=='C' && datum.k=='big'"}],"mark":{"type":"text","fontSize":38,"align":"left","baseline":"alphabetic","color":"#000000"},"encoding":{"x":{"field":"t","type":"quantitative"},"y":{"field":"fu","type":"quantitative"},"text":{"field":"text"}}},
{"data":{"name":"ann"},"transform":[{"filter":"datum.p=='C' && datum.k=='plain'"}],"mark":{"type":"text","fontSize":17,"align":"center","baseline":"alphabetic","color":"#000000"},"encoding":{"x":{"field":"t","type":"quantitative"},"y":{"field":"fu","type":"quantitative"},"text":{"field":"text"}}},
{"data":{"name":"ann"},"transform":[{"filter":"datum.p=='C' && datum.k=='bold'"}],"mark":{"type":"text","fontSize":17,"fontWeight":"bold","align":"right","baseline":"alphabetic","color":"#000000"},"encoding":{"x":{"field":"t","type":"quantitative"},"y":{"field":"fu","type":"quantitative"},"text":{"field":"text"}}},
{"data":{"name":"ann"},"transform":[{"filter":"datum.p=='C' && datum.k=='id'"}],"mark":{"type":"text","fontSize":10,"align":"left","baseline":"middle","color":"#7a7a7a"},"encoding":{"x":{"field":"t","type":"quantitative"},"y":{"field":"fu","type":"quantitative"},"text":{"field":"text"}}},
{"data":{"name":"arrow"},"transform":[{"filter":"datum.p=='C'"}],"mark":{"type":"rule","color":"#000000","strokeWidth":1.2},"encoding":{"x":{"field":"t","type":"quantitative"},"x2":{"field":"t2"},"y":{"field":"fu","type":"quantitative"}}},
{"data":{"name":"arrow"},"transform":[{"filter":"datum.p=='C'"}],"mark":{"type":"point","shape":"triangle-right","filled":true,"color":"#000000","size":110,"opacity":1},"encoding":{"x":{"field":"t2","type":"quantitative"},"y":{"field":"fu","type":"quantitative"}}}
]
},
{
"width": 556, "height": 315,
"layer": [
{"data":{"values":[{}]},"mark":{"type":"rect","color":"#ffffff","clip":false},"encoding":{
 "x":{"datum":0,"type":"quantitative","scale":{"domain":[5.4,61.0],"nice":false,"zero":false},"axis":{"grid":true,"tickCount":1000,"labelOverlap":false,"title":"[bp]","titleX":561,"titleY":10,"titleAlign":"center","titleBaseline":"top",
  "values":[8.5,9.8,11.5,15.7,19.7,23.5,31,37.3,41.8,48.3,50.7,54.7,6.4,7.1,7.8,9.15,10.65,12.35,13.2,14.0,14.85,16.5,17.3,18.1,18.9,20.45,21.2,22.0,22.75,25.0,26.5,28.0,29.5,32.6,34.1,35.7,38.4,39.5,40.7,43.4,45.0,46.6,49.5,51.9,53.3,56.2,57.8,59.4],
  "labelExpr":"indexof([8.5,9.8,11.5,15.7,19.7,23.5,31,37.3,41.8,48.3,50.7,54.7], datum.value) >= 0 ? ['15','','50','100','150','200','300','400','500','700','','1500'][indexof([8.5,9.8,11.5,15.7,19.7,23.5,31,37.3,41.8,48.3,50.7,54.7], datum.value)] : ''",
  "gridColor":{"condition":{"test":"indexof([8.5,9.8,11.5,15.7,19.7,23.5,31,37.3,41.8,48.3,50.7,54.7], datum.value) >= 0","value":"#b3bbcb"},"value":"#dadee6"},
  "tickOpacity":{"condition":{"test":"indexof([8.5,9.8,11.5,15.7,19.7,23.5,31,37.3,41.8,48.3,50.7,54.7], datum.value) >= 0","value":1},"value":0}}},
 "x2":{"datum":1.3},
 "y":{"datum":188.9,"type":"quantitative","scale":{"domain":[-4.2,177.3],"nice":false,"zero":false},"axis":{"grid":true,"tickCount":1000,"labelOverlap":false,"offset":-4,"title":"[FU]","titleAngle":0,"titleX":-16,"titleY":2,"titleAlign":"center","titleBaseline":"middle",
  "values":[0,5,10,15,20,25,30,35,40,45,50,55,60,65,70,75,80,85,90,95,100,105,110,115,120,125,130,135,140,145,150,155,160,165,170,175],
  "labelExpr":"datum.value % 20 == 0 ? '' + datum.value : ''",
  "gridColor":{"condition":{"test":"datum.value % 20 == 0","value":"#b3bbcb"},"value":"#dadee6"},
  "tickOpacity":{"condition":{"test":"datum.value % 20 == 0","value":1},"value":0}}},
 "y2":{"datum":-28.4}}},
{"data":{"values":[{}]},"mark":{"type":"rect","color":"#000000","clip":false},"encoding":{"x":{"datum":1.3,"type":"quantitative"},"x2":{"datum":1.6},"y":{"datum":188.9,"type":"quantitative"},"y2":{"datum":-28.4}}},
{"data":{"values":[{}]},"mark":{"type":"rect","color":"#000000","clip":false},"encoding":{"x":{"datum":62.8,"type":"quantitative"},"x2":{"datum":63.1},"y":{"datum":188.9,"type":"quantitative"},"y2":{"datum":-28.4}}},
{"data":{"values":[{}]},"mark":{"type":"rect","color":"#000000","clip":false},"encoding":{"x":{"datum":1.3,"type":"quantitative"},"x2":{"datum":63.1},"y":{"datum":-26.7,"type":"quantitative"},"y2":{"datum":-28.4}}},
{"data":{"name":"trace"},"transform":[{"filter":"datum.p=='D' && datum.s=='male'"}],"mark":{"type":"line","strokeWidth":1.8,"interpolate":"monotone","clip":true},"encoding":{"x":{"field":"t","type":"quantitative"},"y":{"field":"fu","type":"quantitative"},"color":{"field":"s","type":"nominal","scale":{"domain":["male","female"],"range":["#3556d8","#f05050"]},"legend":null}}},
{"data":{"name":"trace"},"transform":[{"filter":"datum.p=='D' && datum.s=='female'"}],"mark":{"type":"line","strokeWidth":1.8,"opacity":0.8,"interpolate":"monotone","clip":true},"encoding":{"x":{"field":"t","type":"quantitative"},"y":{"field":"fu","type":"quantitative"},"color":{"field":"s","type":"nominal","legend":null}}},
{"data":{"name":"ann"},"transform":[{"filter":"datum.p=='D' && datum.k=='big'"}],"mark":{"type":"text","fontSize":38,"align":"left","baseline":"alphabetic","color":"#000000"},"encoding":{"x":{"field":"t","type":"quantitative"},"y":{"field":"fu","type":"quantitative"},"text":{"field":"text"}}},
{"data":{"name":"ann"},"transform":[{"filter":"datum.p=='D' && datum.k=='plain'"}],"mark":{"type":"text","fontSize":17,"align":"center","baseline":"alphabetic","color":"#000000"},"encoding":{"x":{"field":"t","type":"quantitative"},"y":{"field":"fu","type":"quantitative"},"text":{"field":"text"}}},
{"data":{"name":"ann"},"transform":[{"filter":"datum.p=='D' && datum.k=='bold'"}],"mark":{"type":"text","fontSize":17,"fontWeight":"bold","align":"right","baseline":"alphabetic","color":"#000000"},"encoding":{"x":{"field":"t","type":"quantitative"},"y":{"field":"fu","type":"quantitative"},"text":{"field":"text"}}},
{"data":{"name":"ann"},"transform":[{"filter":"datum.p=='D' && datum.k=='id'"}],"mark":{"type":"text","fontSize":10,"align":"left","baseline":"middle","color":"#7a7a7a"},"encoding":{"x":{"field":"t","type":"quantitative"},"y":{"field":"fu","type":"quantitative"},"text":{"field":"text"}}},
{"data":{"name":"arrow"},"transform":[{"filter":"datum.p=='D'"}],"mark":{"type":"rule","color":"#000000","strokeWidth":1.2},"encoding":{"x":{"field":"t","type":"quantitative"},"x2":{"field":"t2"},"y":{"field":"fu","type":"quantitative"}}},
{"data":{"name":"arrow"},"transform":[{"filter":"datum.p=='D'"}],"mark":{"type":"point","shape":"triangle-right","filled":true,"color":"#000000","size":110,"opacity":1},"encoding":{"x":{"field":"t2","type":"quantitative"},"y":{"field":"fu","type":"quantitative"}}}
]
}
],
"config": {
 "view": {"stroke": null, "fill": "#f7f7f5"},
 "axis": {"labelFont": "DejaVu Sans", "labelFontSize": 9.5, "titleFont": "DejaVu Sans", "titleFontSize": 9.5, "titleFontWeight": "normal", "gridWidth": 1, "labelOverlap": false, "labelFlush": false, "labelBound": false},
 "axisX": {"domainColor": "#777777", "domainWidth": 2, "tickColor": "#555555", "tickSize": 5, "labelPadding": 5, "labelColor": "#444444", "titleColor": "#444444", "labelAngle": 0},
 "axisY": {"domainColor": "#f08c8c", "domainWidth": 1.5, "tickColor": "#f08c8c", "tickSize": 3, "labelPadding": 1, "labelColor": "#e87a7a", "titleColor": "#e87a7a"},
 "text": {"font": "Liberation Sans"}
}
}
